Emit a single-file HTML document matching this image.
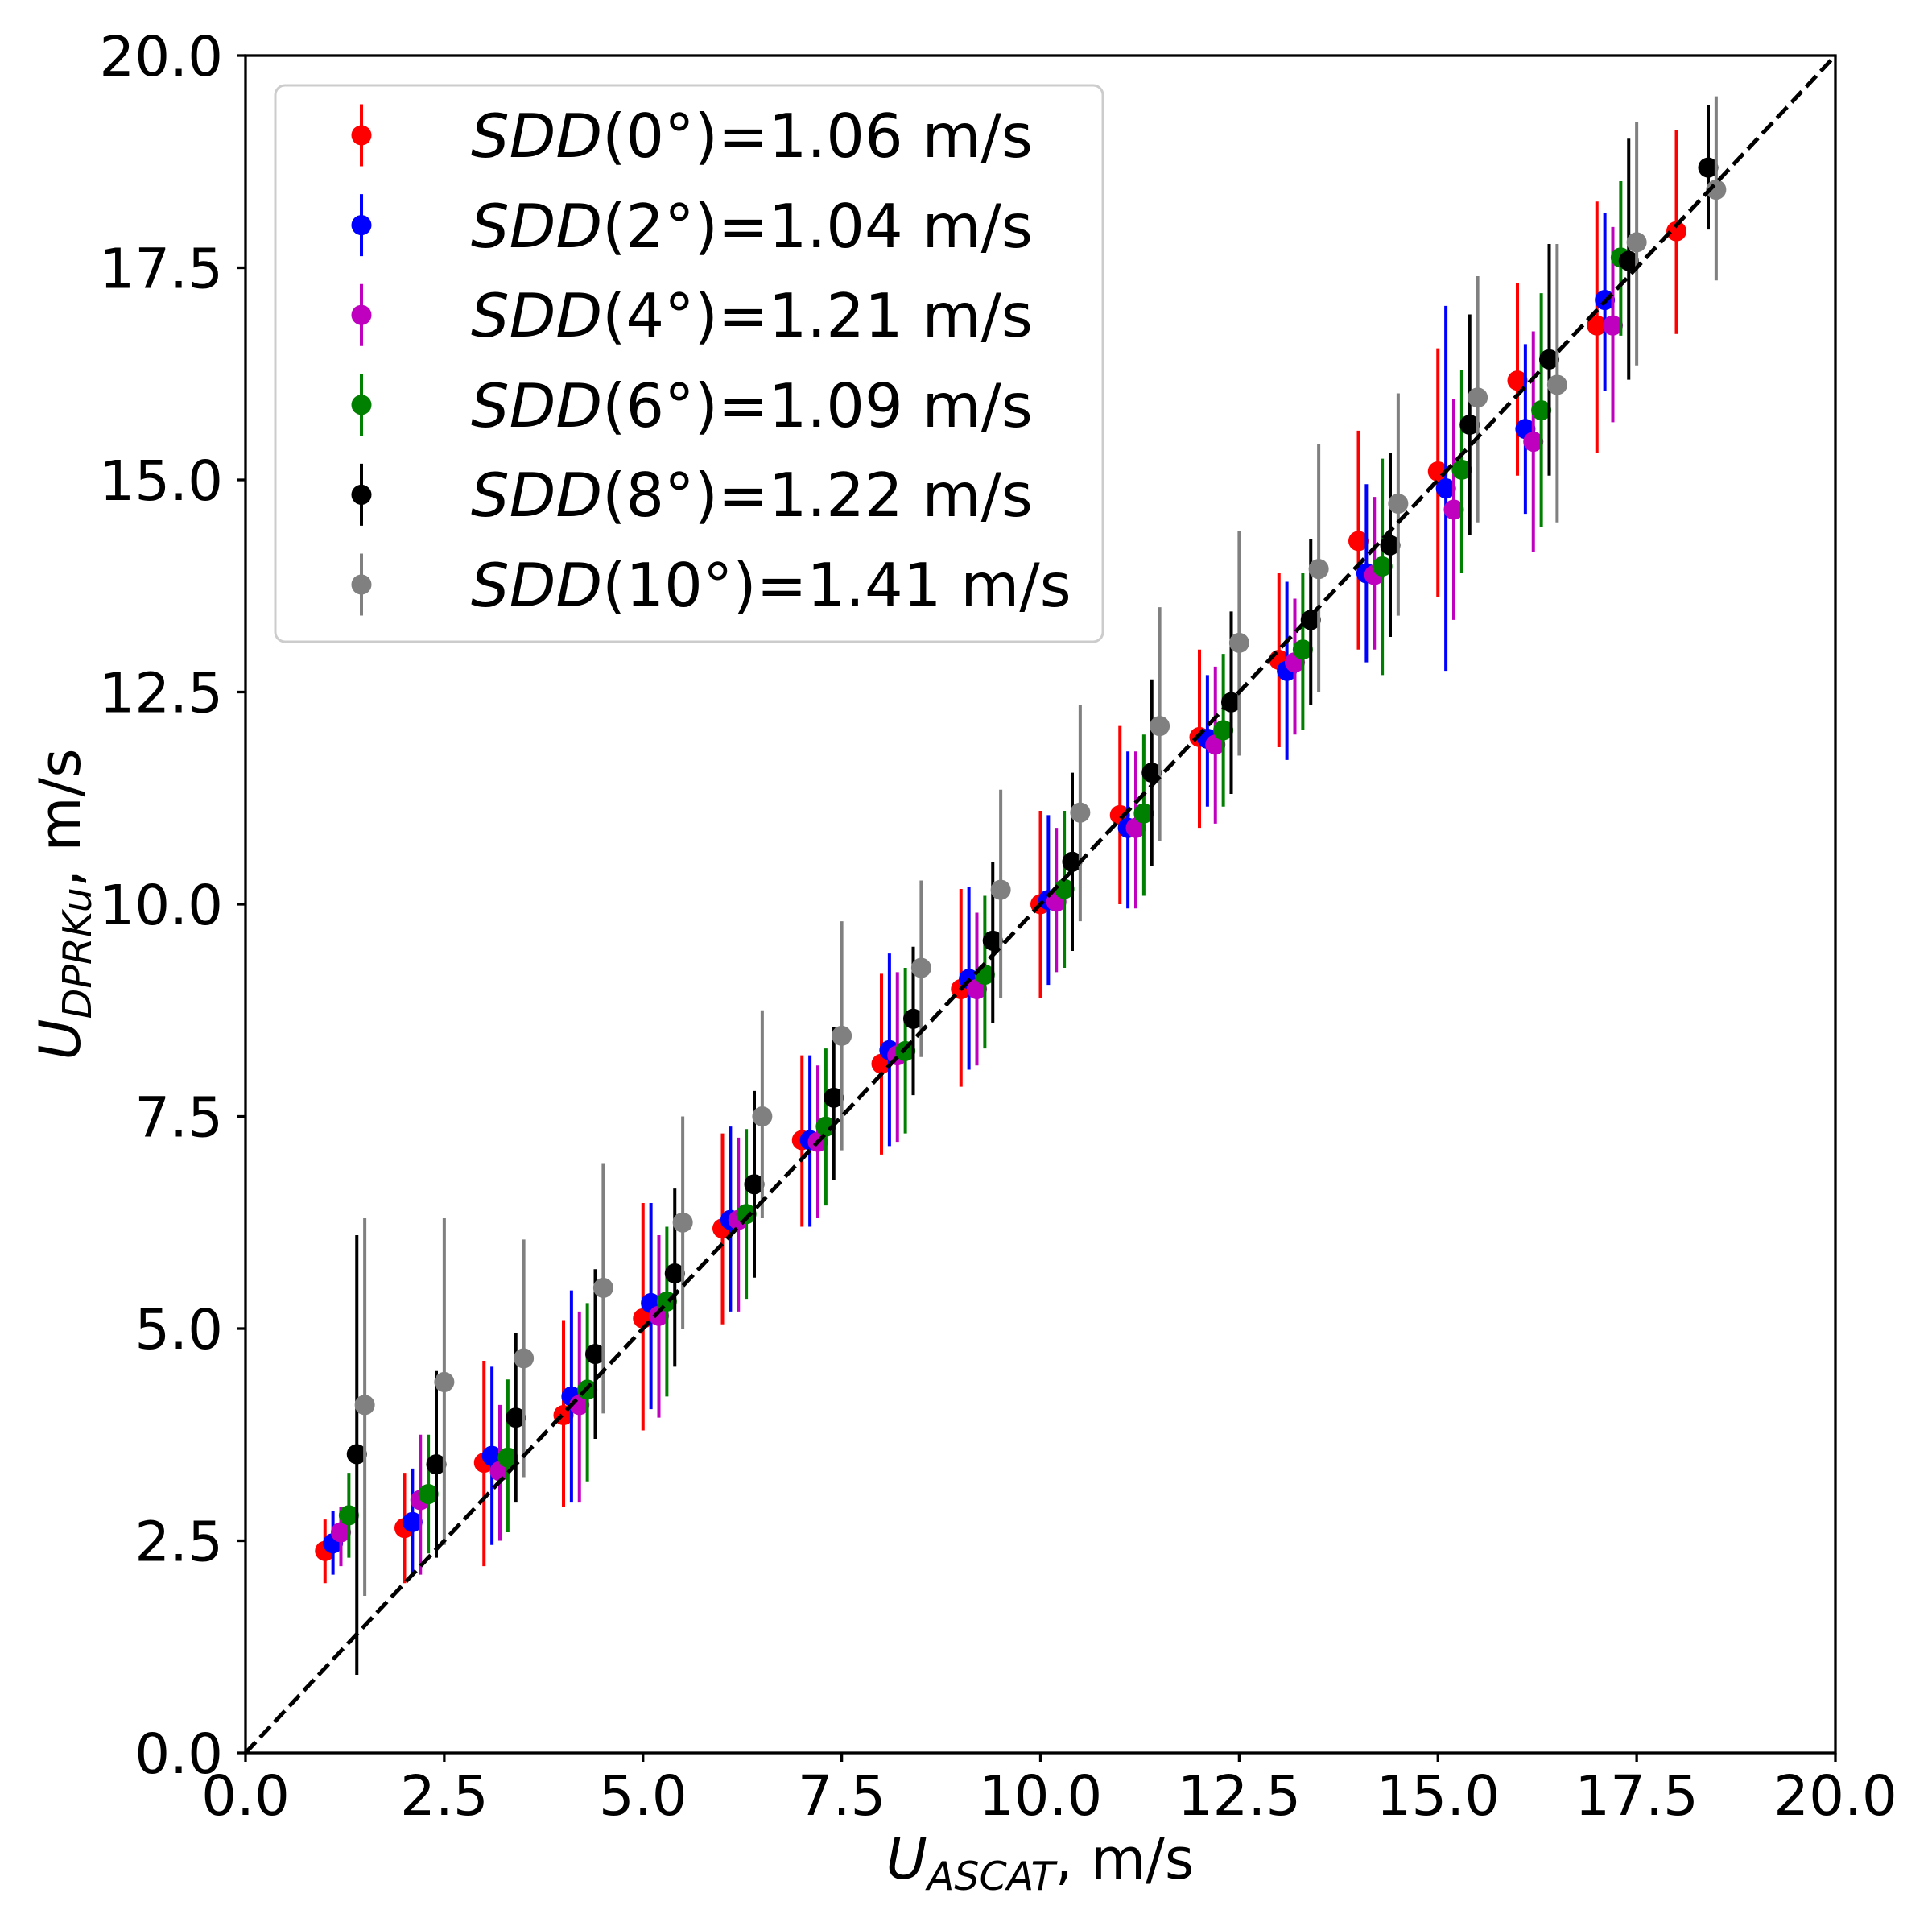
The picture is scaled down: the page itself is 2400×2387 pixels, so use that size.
<!DOCTYPE html>
<html><head><meta charset="utf-8"><style>
html,body{margin:0;padding:0;background:#fff;}
svg{display:block;font-family:"DejaVu Sans","Liberation Sans",sans-serif;}
</style></head><body>
<svg id="c" width="2400" height="2387" viewBox="0 0 2400 2387" xmlns="http://www.w3.org/2000/svg">
<rect width="2400" height="2387" fill="#fff"/>
<g id="data"></g>
<line x1="305" y1="2177" x2="2280" y2="69" stroke="#000" stroke-width="5" stroke-dasharray="18.5 8"/>
<rect x="305" y="69" width="1975" height="2108" fill="none" stroke="#000" stroke-width="3.3"/>
<g id="ticks" stroke="#000" stroke-width="3.3"></g>
<g font-size="69" fill="#000">
<text x="305" y="2254" text-anchor="middle">0.0</text>
<text x="551.9" y="2254" text-anchor="middle">2.5</text>
<text x="798.8" y="2254" text-anchor="middle">5.0</text>
<text x="1045.6" y="2254" text-anchor="middle">7.5</text>
<text x="1292.5" y="2254" text-anchor="middle">10.0</text>
<text x="1539.4" y="2254" text-anchor="middle">12.5</text>
<text x="1786.3" y="2254" text-anchor="middle">15.0</text>
<text x="2033.1" y="2254" text-anchor="middle">17.5</text>
<text x="2280" y="2254" text-anchor="middle">20.0</text>
<text x="277" y="2202" text-anchor="end">0.0</text>
<text x="277" y="1938.5" text-anchor="end">2.5</text>
<text x="277" y="1675" text-anchor="end">5.0</text>
<text x="277" y="1411.5" text-anchor="end">7.5</text>
<text x="277" y="1148" text-anchor="end">10.0</text>
<text x="277" y="884.5" text-anchor="end">12.5</text>
<text x="277" y="621" text-anchor="end">15.0</text>
<text x="277" y="357.5" text-anchor="end">17.5</text>
<text x="277" y="94" text-anchor="end">20.0</text>
</g>
<text x="1292" y="2333" font-size="70" text-anchor="middle"><tspan font-style="italic">U</tspan><tspan font-style="italic" font-size="49" dy="14">ASCAT</tspan><tspan dy="-14">, m/s</tspan></text>
<text transform="translate(99,1123) rotate(-90)" font-size="70" text-anchor="middle"><tspan font-style="italic">U</tspan><tspan font-style="italic" font-size="49" dy="14">DPRKu</tspan><tspan dy="-14">, m/s</tspan></text>
<rect x="342" y="106" width="1028" height="691" rx="12" ry="12" fill="#fff" fill-opacity="0.8" stroke="#cccccc" stroke-width="3"/>
<g id="leg"></g>
<g font-size="75" fill="#000">
<text x="585" y="195"><tspan font-style="italic">SDD</tspan>(0°)=1.06 m/s</text>
<text x="585" y="307"><tspan font-style="italic">SDD</tspan>(2°)=1.04 m/s</text>
<text x="585" y="418"><tspan font-style="italic">SDD</tspan>(4°)=1.21 m/s</text>
<text x="585" y="530"><tspan font-style="italic">SDD</tspan>(6°)=1.09 m/s</text>
<text x="585" y="641"><tspan font-style="italic">SDD</tspan>(8°)=1.22 m/s</text>
<text x="585" y="753"><tspan font-style="italic">SDD</tspan>(10°)=1.41 m/s</text>
</g>
</svg>
<script>
var NS="http://www.w3.org/2000/svg";
function X(v){return 305+v*98.75;}
function Y(v){return 2177-v*105.4;}
function el(p,t,a){var e=document.createElementNS(NS,t);for(var k in a)e.setAttribute(k,a[k]);p.appendChild(e);return e;}
var tg=document.getElementById("ticks");
for(var i=0;i<=8;i++){var v=i*2.5;el(tg,"line",{x1:X(v),y1:2177,x2:X(v),y2:2188});el(tg,"line",{x1:294,y1:Y(v),x2:305,y2:Y(v)});}
var cols=["#ff0000","#0000ff","#bf00bf","#008000","#000000","#808080"];
var D=[
[[2.38,2.0,2.75],[2.65,2.0,3.3],[3.42,2.2,4.62],[3.98,2.9,5.1],[5.12,3.8,6.48],[6.18,5.05,7.3],[7.22,6.2,8.22],[8.12,7.05,9.18],[9.0,7.85,10.18],[10.0,8.9,11.1],[11.05,10.0,12.1],[11.97,10.9,13.0],[12.88,11.85,13.9],[14.28,13.0,15.58],[15.1,13.62,16.55],[16.17,15.05,17.32],[16.82,15.32,18.28],[17.93,16.72,19.12]],
[[2.47,2.1,2.85],[2.72,2.1,3.35],[3.5,2.45,4.55],[4.2,2.95,5.45],[5.3,4.05,6.48],[6.28,5.2,7.38],[7.22,6.2,8.22],[8.28,7.15,9.42],[9.12,8.05,10.2],[10.05,9.05,11.05],[10.9,9.95,11.8],[11.95,11.15,12.7],[12.75,11.7,13.8],[13.9,12.85,14.95],[14.9,12.75,17.05],[15.6,14.6,16.6],[17.12,16.05,18.15]],
[[2.6,2.2,2.9],[2.98,2.1,3.75],[3.32,2.5,4.1],[4.1,2.95,5.2],[5.15,3.95,6.1],[6.28,5.2,7.25],[7.2,6.3,8.1],[8.22,7.2,9.2],[9.0,8.1,9.9],[10.03,9.2,10.9],[10.9,9.95,11.8],[11.88,10.95,12.8],[12.85,12.0,13.6],[13.88,13.0,14.8],[14.65,13.35,15.95],[15.45,14.15,16.75],[16.82,15.68,17.98]],
[[2.8,2.3,3.3],[3.05,2.35,3.75],[3.48,2.6,4.4],[4.28,3.2,5.3],[5.32,4.2,6.2],[6.35,5.35,7.35],[7.38,6.45,8.3],[8.27,7.3,9.25],[9.17,8.3,10.1],[10.18,9.25,11.1],[11.07,10.1,12.0],[12.05,11.15,12.95],[13.0,12.05,13.9],[13.98,12.7,15.25],[15.12,13.9,16.3],[15.82,14.45,17.2],[17.62,16.7,18.52]],
[[3.52,0.92,6.1],[3.4,2.3,4.5],[3.95,2.95,4.95],[4.7,3.7,5.7],[5.65,4.55,6.65],[6.7,5.6,7.8],[7.72,6.75,8.55],[8.65,7.75,9.5],[9.57,8.6,10.5],[10.5,9.45,11.55],[11.55,10.45,12.65],[12.38,11.3,13.45],[13.35,12.35,14.3],[14.23,13.15,15.32],[15.65,14.35,16.95],[16.42,15.05,17.78],[17.58,16.18,19.02],[18.68,17.95,19.42]],
[[4.1,1.85,6.3],[4.37,2.45,6.3],[4.65,3.25,6.05],[5.48,4.0,6.95],[6.25,5.0,7.5],[7.5,6.3,8.75],[8.45,7.1,9.8],[9.25,8.2,10.28],[10.17,8.9,11.35],[11.08,9.8,12.35],[12.1,10.75,13.5],[13.08,11.75,14.4],[13.95,12.5,15.42],[14.72,13.4,16.02],[15.97,14.5,17.4],[16.12,14.5,17.78],[17.8,16.35,19.22],[18.42,17.35,19.52]]
];
var dg=document.getElementById("data"),lg=document.getElementById("leg");
for(var s=0;s<6;s++){
 for(var j=0;j<D[s].length;j++){
  var p=D[s][j],x=X(j+1+0.1*s);
  el(dg,"line",{x1:x,y1:Y(p[1]),x2:x,y2:Y(p[2]),stroke:cols[s],"stroke-width":4});
  el(dg,"circle",{cx:x,cy:Y(p[0]),r:12.5,fill:cols[s]});
 }
 var cy=168+s*111.6;
 el(lg,"line",{x1:449,y1:cy-38.5,x2:449,y2:cy+38.5,stroke:cols[s],"stroke-width":4});
 el(lg,"circle",{cx:449,cy:cy,r:12.5,fill:cols[s]});
}
</script>
</body></html>
